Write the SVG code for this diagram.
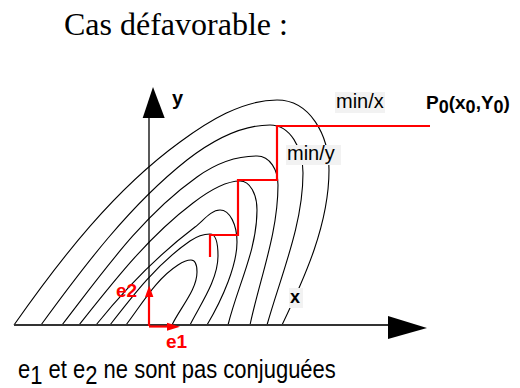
<svg xmlns="http://www.w3.org/2000/svg" width="520" height="388" viewBox="0 0 520 388">
<style>
.c{fill:none;stroke:#000;stroke-width:1.1}
.ax{stroke:#333;stroke-width:2;fill:none}
.ah{fill:#000}
.red{stroke:#f00;stroke-width:2.2;fill:none}
.redf{fill:#f00}
.sans{font-family:"Liberation Sans",Arial,sans-serif}
.bg{fill:#f2f2f2}
</style>
<rect width="520" height="388" fill="#fff"/>
<text x="64" y="35" font-family="'Liberation Serif','Times New Roman',serif" font-size="32">Cas défavorable :</text>
<g id="contours">
<path class="c" d="M14,325 C61,258 114,190 180,142 C208,121.5 242,100 277,100 C310,100 329,135 329,170 C329,224 305,277 282,325"/>
<path class="c" d="M41,325 C84,266 130,205 187,160 C211,141.5 240,125 270,125 C290,125 303,148 303,173 C303,225 281,275 267,325"/>
<path class="c" d="M62,325 C103,272 142,216 197,177 C215,164 235,156 257,156 C270,156 278,170 278,185 C278,233 260,278 250,325"/>
<path class="c" d="M79,325 C114,281 148,237 193,203 C206,193 225,181 240,181 C250,181 257,194 257,210 C257,250 238,285 228,325"/>
<path class="c" d="M96,325 C125,289 158,255 195,227 C203,221 211,210 220,210 C230,210 237,225 237,242 C237,265 223,298 207,325"/>
<path class="c" d="M110,325 C134,294 158,263 190,241 C198,235.5 204,234 210,234 C216,234 218,244 218,256 C218,280 200,305 190,325"/>
<path class="c" d="M126,325 C142,304 156,279 178,265 C184,261 187,260 191,260 C195,260 197,265 197,272 C197,290 180,308 172,325"/>
</g>
<g id="axis-x">
<path class="ax" d="M14,325 H390"/>
<polygon class="ah" points="388,316 427,328 388,339"/>
</g>
<g id="axis-y">
<path d="M149,325 V118" stroke="#000" stroke-width="1.3" fill="none"/>
<polygon class="ah" points="142.7,118 153,87 164.7,118"/>
<text class="sans" x="172" y="105" font-size="20" font-weight="bold">y</text>
</g>
<g id="connectors">
<path class="red" d="M430,126 H277 V180 H238 V235 H210 V257"/>
</g>
<g id="e2">
<path class="red" d="M149,326 V296"/>
<polygon class="redf" points="145,297 149.2,285.5 153.4,297"/>
<text class="sans" x="116" y="296.5" font-size="19" font-weight="bold" fill="#f00">e2</text>
</g>
<g id="e1">
<path class="red" d="M149,326.5 H168"/>
<polygon class="redf" points="167,322.7 180,326.7 167,330.7"/>
<text class="sans" x="166" y="347.5" font-size="19" font-weight="bold" fill="#f00">e1</text>
</g>
<g id="label-minx">
<rect class="bg" x="335" y="92" width="50" height="21"/>
<text class="sans" x="336" y="108" font-size="20">min/x</text>
</g>
<g id="label-miny">
<rect class="bg" x="286" y="145" width="55" height="20"/>
<text class="sans" x="287" y="160" font-size="20">min/y</text>
</g>
<g id="label-x">
<rect class="bg" x="289" y="288" width="14" height="20"/>
<text class="sans" x="290" y="303" font-size="18" font-weight="bold">x</text>
</g>
<g id="p0">
<text class="sans" x="426" y="109" font-size="19" font-weight="bold">P<tspan font-size="18" dy="4">0</tspan><tspan dy="-4">(x</tspan><tspan font-size="18" dy="4">0</tspan><tspan dy="-4">,Y</tspan><tspan font-size="18" dy="4">0</tspan><tspan dy="-4">)</tspan></text>
</g>
<text class="sans" transform="translate(18,378) scale(1,1.2)" font-size="22">e<tspan dy="5">1</tspan><tspan dy="-5"> et e</tspan><tspan dy="5">2</tspan><tspan dy="-5"> ne sont pas conjuguées</tspan></text>
</svg>
